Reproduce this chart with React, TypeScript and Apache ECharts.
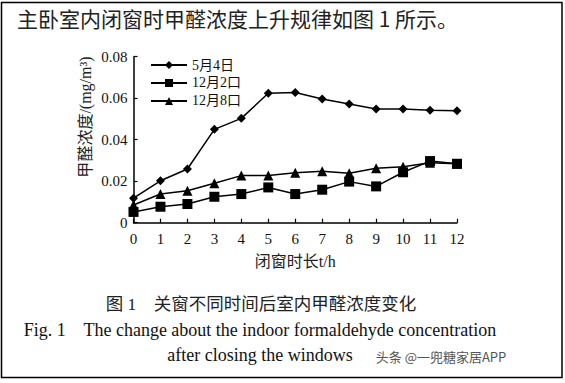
import React, { useEffect, useRef } from "react";
import * as echarts from "echarts";

const hours = ["0", "1", "2", "3", "4", "5", "6", "7", "8", "9", "10", "11", "12"];
const seriesNames = ["5月4日", "12月2口", "12月8口"];
const may4 = [0.0118, 0.0202, 0.0259, 0.045, 0.0503, 0.0624, 0.0627, 0.0596, 0.0572, 0.0548, 0.0548, 0.0542, 0.054];
const dec2 = [0.0052, 0.0077, 0.009, 0.0125, 0.0138, 0.017, 0.0138, 0.0159, 0.0198, 0.0175, 0.0243, 0.0297, 0.0284];
const dec8 = [0.0085, 0.0138, 0.0154, 0.019, 0.0227, 0.0227, 0.0241, 0.0248, 0.0238, 0.0262, 0.027, 0.0289, 0.0284];
const yTicks = [0, 0.02, 0.04, 0.06, 0.08];

const serif = "'Liberation Serif', 'Noto Sans CJK SC', serif";

export default function App() {
  const ref = useRef<HTMLDivElement>(null);
  useEffect(() => {
    document.body.style.margin = "0";
    const chart = echarts.init(ref.current!, null, { renderer: "svg" });
    const mk = (name: string, data: number[], symbol: string, size: number) => ({
      name,
      type: "line",
      data,
      symbol,
      symbolSize: size,
      lineStyle: { color: "#000", width: 1.5 },
      itemStyle: { color: "#000" },
    });
    chart.setOption({
      animation: false,
      backgroundColor: "#fff",
      grid: { left: 133.5, right: 108, top: 56.7, bottom: 160.3 },
      legend: {
        orient: "vertical",
        left: 145,
        top: 53,
        itemWidth: 36,
        itemHeight: 10,
        itemGap: 4,
        textStyle: { fontFamily: serif, fontSize: 14, color: "#111" },
        data: seriesNames,
      },
      xAxis: {
        type: "category",
        data: hours,
        boundaryGap: false,
        name: "闭窗时长t/h",
        nameLocation: "middle",
        nameGap: 31,
        nameTextStyle: { fontFamily: serif, fontSize: 16, color: "#222" },
        axisLine: { lineStyle: { color: "#000", width: 1.5 } },
        axisTick: { inside: true, length: 4, lineStyle: { color: "#000", width: 1.2 } },
        axisLabel: { fontFamily: serif, fontSize: 15, color: "#111", margin: 9 },
        splitLine: { show: false },
      },
      yAxis: {
        type: "value",
        min: yTicks[0],
        max: yTicks[yTicks.length - 1],
        interval: 0.02,
        axisLine: { show: true, lineStyle: { color: "#000", width: 1.5 } },
        axisTick: { show: true, inside: true, length: 4, lineStyle: { color: "#000", width: 1.2 } },
        axisLabel: {
          fontFamily: serif,
          fontSize: 15,
          color: "#111",
          margin: 6,
          formatter: (v: number) => (v === 0 ? "0" : v.toFixed(2)),
        },
        splitLine: { show: false },
      },
      series: [
        mk(seriesNames[0], may4, "diamond", 9),
        mk(seriesNames[1], dec2, "rect", 10),
        mk(seriesNames[2], dec8, "triangle", 10),
      ],
      graphic: [
        {
          type: "rect",
          shape: { x: 1.5, y: 2.5, width: 560.5, height: 375 },
          style: { fill: "none", stroke: "#000", lineWidth: 1.5 },
          z: 100,
        },
        {
          type: "text",
          x: 85,
          y: 117,
          rotation: Math.PI / 2,
          style: {
            text: "甲醛浓度/(mg/m³)",
            font: "16px 'Liberation Serif', 'Noto Sans CJK SC', serif",
            fill: "#222",
            align: "center",
            verticalAlign: "middle",
          },
        },
        {
          type: "text",
          x: 17,
          y: 18,
          style: {
            text: "主卧室内闭窗时甲醛浓度上升规律如图 1 所示。",
            font: "21px 'Noto Sans CJK SC', sans-serif",
            fill: "#222",
            verticalAlign: "middle",
          },
        },
        {
          type: "text",
          x: 261,
          y: 304,
          style: {
            text: "图 1　关窗不同时间后室内甲醛浓度变化",
            font: "17.5px 'Liberation Serif', 'Noto Sans CJK SC', serif",
            fill: "#222",
            align: "center",
            verticalAlign: "middle",
          },
        },
        {
          type: "text",
          x: 260,
          y: 330,
          style: {
            text: "Fig. 1    The change about the indoor formaldehyde concentration",
            font: "18px 'Liberation Serif', serif",
            fill: "#111",
            align: "center",
            verticalAlign: "middle",
          },
        },
        {
          type: "text",
          x: 260,
          y: 355,
          style: {
            text: "after closing the windows",
            font: "18px 'Liberation Serif', serif",
            fill: "#111",
            align: "center",
            verticalAlign: "middle",
          },
        },
        {
          type: "text",
          x: 441,
          y: 356,
          style: {
            text: "头条 @一兜糖家居APP",
            font: "13px 'Noto Sans CJK SC', sans-serif",
            fill: "#555",
            align: "center",
            verticalAlign: "middle",
          },
        },
      ],
    });
    return () => chart.dispose();
  }, []);
  return <div ref={ref} style={{ width: 565, height: 383 }} />;
}
